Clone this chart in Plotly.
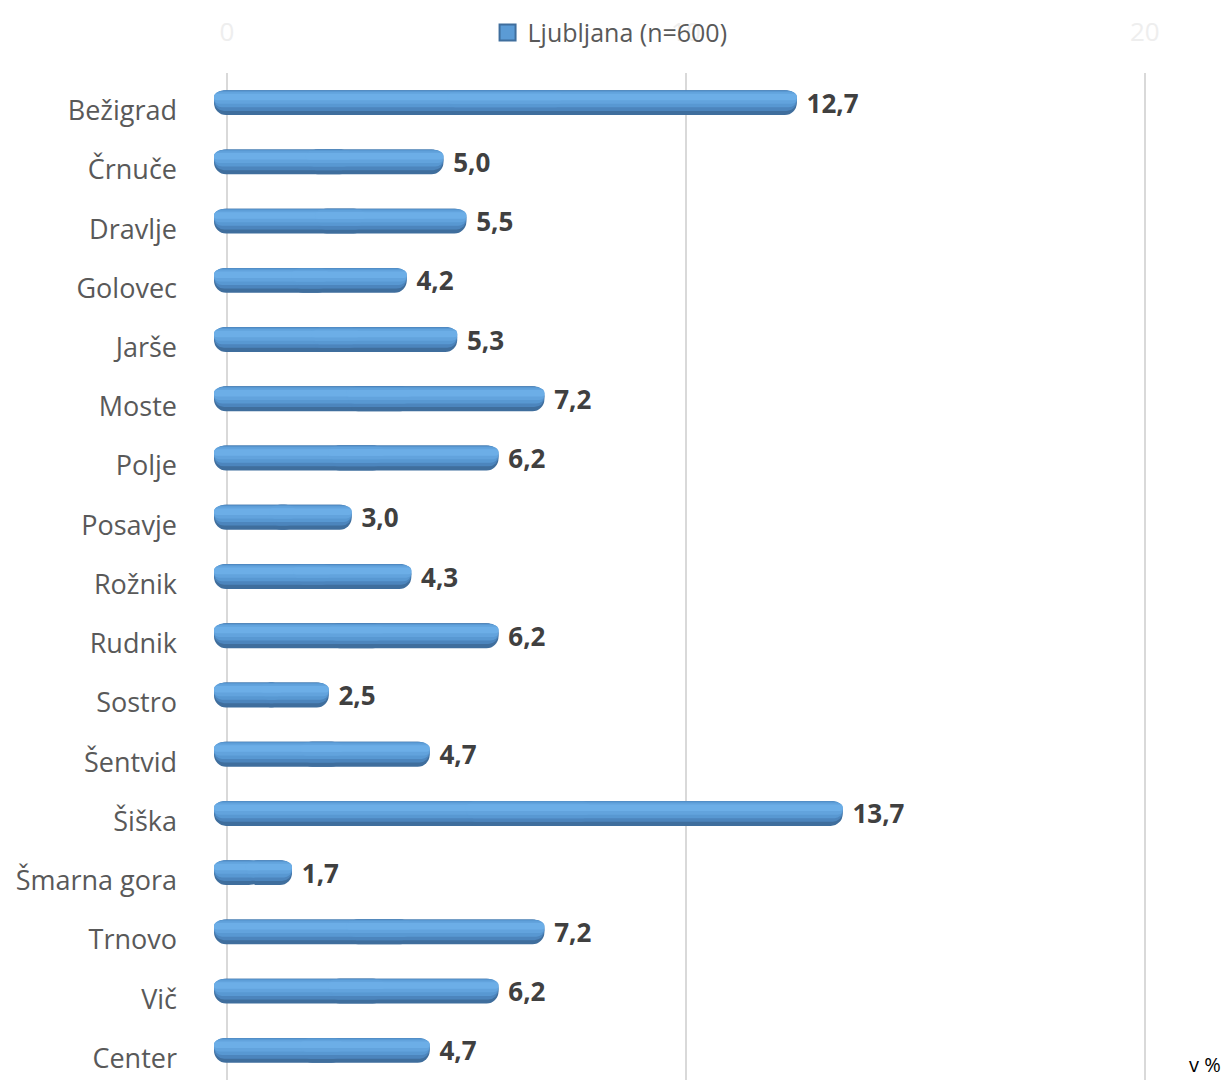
import plotly.graph_objects as go

categories = ["Bežigrad", "Črnuče", "Dravlje", "Golovec", "Jarše", "Moste", "Polje",
              "Posavje", "Rožnik", "Rudnik", "Sostro", "Šentvid", "Šiška",
              "Šmarna gora", "Trnovo", "Vič", "Center"]
values = [12.7, 5.0, 5.5, 4.2, 5.3, 7.2, 6.2, 3.0, 4.3, 6.2, 2.5, 4.7, 13.7, 1.7, 7.2, 6.2, 4.7]
series_name = "Ljubljana (n=600)"
axis_ticks = [0, 10, 20]
unit_label = "v %"

labels = [" " + f"{v:.1f}".replace(".", ",") for v in values]
# split each bar into two overlapping pieces so both ends can be rounded
right_base = [v * 0.4 for v in values]
right_len = [v * 0.6 for v in values]
left_base = [v * 0.6 for v in values]
left_len = [-v * 0.6 for v in values]

W, H = 1224, 1085
L, R, T, B = 214, 44, 73, 5
plot_w = W - L - R
XMAX = 21.05
shift = 13 / (plot_w / XMAX)  # 3D depth offset of gridlines

# cylinder shading layers: (start offset, width, colour)
layers = [
    (-0.21, 0.42, "#3f6e9d"),
    (-0.21, 0.35, "#4c85bd"),
    (-0.20, 0.28, "#5898d2"),
    (-0.18, 0.20, "#62a3dd"),
    (-0.15, 0.11, "#6caee7"),
]

fig = go.Figure()
for i, (off, wd, col) in enumerate(layers):
    fig.add_trace(go.Bar(
        y=categories, x=left_len, base=left_base, orientation="h", showlegend=False,
        marker=dict(color=col, cornerradius="50%", line=dict(width=0)),
        width=wd, offset=off, hoverinfo="skip", textposition="none"))
    fig.add_trace(go.Bar(
        y=categories, x=right_len, base=right_base, orientation="h", showlegend=False,
        marker=dict(color=col, cornerradius="50%", line=dict(width=0)),
        width=wd, offset=off, hoverinfo="skip",
        text=labels if i == 0 else None,
        textposition="outside" if i == 0 else "none",
        constraintext="none",
        textfont=dict(family="Open Sans", size=26, color="#404040", weight="bold"),
        cliponaxis=False))
# legend entry
fig.add_trace(go.Scatter(
    x=[None], y=[None], mode="markers", name=series_name,
    marker=dict(symbol="square", size=16, color="#5b9bd5",
                line=dict(color="#3f6e9d", width=2))))
# invisible trace for top axis
fig.add_trace(go.Scatter(x=[0], y=[categories[0]], xaxis="x2", mode="markers",
                         marker=dict(opacity=0), showlegend=False, hoverinfo="skip"))

fig.update_layout(
    width=W, height=H,
    margin=dict(l=L, r=R, t=T, b=B, autoexpand=False),
    paper_bgcolor="white", plot_bgcolor="white",
    barmode="overlay",
    font=dict(family="Open Sans", color="#595959"),
    xaxis=dict(range=[0, XMAX], showgrid=False, showticklabels=False, zeroline=False,
               showline=False),
    xaxis2=dict(overlaying="x", side="top", range=[-shift, XMAX - shift],
                tickvals=axis_ticks, showgrid=True, gridcolor="#d9d9d9", gridwidth=2,
                zeroline=False, showline=False,
                tickfont=dict(size=26, color="#eeeeee"), ticklabelstandoff=26),
    yaxis=dict(type="category", categoryarray=categories, categoryorder="array",
               range=[len(categories) - 0.5, -0.5],
               showgrid=False, showline=False, zeroline=False,
               tickfont=dict(size=27, color="#595959"), ticklabelstandoff=36,
               ticklabelshift=-8),
    legend=dict(orientation="h", x=0.41, xanchor="center", y=1.04, yanchor="middle",
                font=dict(size=25, color="#595959"), bgcolor="rgba(0,0,0,0)",
                itemwidth=30),
    annotations=[dict(text=unit_label, xref="paper", yref="paper", x=1.045, y=0.0,
                      xanchor="right", yanchor="bottom", showarrow=False,
                      font=dict(size=20, color="#000000"))],
)
fig.write_html("out.html", config={"displayModeBar": False},
               post_script="document.body.style.margin='0';")
